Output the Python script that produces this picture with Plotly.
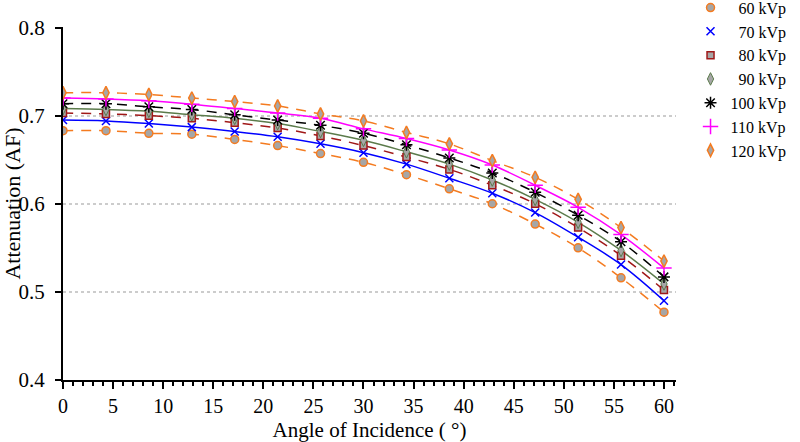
import plotly.graph_objects as go

angles = [0, 4.29, 8.57, 12.86, 17.14, 21.43, 25.71, 30, 34.29, 38.57, 42.86, 47.14, 51.43, 55.71, 60]

af_60 = [0.683, 0.683, 0.680, 0.679, 0.673, 0.666, 0.657, 0.647, 0.633, 0.617, 0.600, 0.577, 0.550, 0.516, 0.477]
af_70 = [0.695, 0.694, 0.691, 0.687, 0.682, 0.676, 0.668, 0.658, 0.645, 0.629, 0.612, 0.590, 0.562, 0.531, 0.490]
af_80 = [0.703, 0.702, 0.700, 0.697, 0.692, 0.686, 0.677, 0.666, 0.653, 0.639, 0.621, 0.600, 0.573, 0.541, 0.502]
af_90 = [0.708, 0.707, 0.705, 0.701, 0.697, 0.691, 0.682, 0.672, 0.659, 0.645, 0.627, 0.605, 0.579, 0.547, 0.509]
af_100 = [0.7135, 0.7135, 0.710, 0.707, 0.701, 0.695, 0.689, 0.680, 0.667, 0.652, 0.635, 0.613, 0.587, 0.557, 0.517]
af_110 = [0.720, 0.719, 0.717, 0.713, 0.708, 0.703, 0.697, 0.685, 0.674, 0.661, 0.644, 0.621, 0.596, 0.565, 0.527]
af_120 = [0.726, 0.726, 0.724, 0.720, 0.716, 0.711, 0.702, 0.694, 0.681, 0.668, 0.649, 0.630, 0.605, 0.573, 0.535]

series_names = ["60", "70", "80", "90", "100", "110", "120"]
series_values = [af_60, af_70, af_80, af_90, af_100, af_110, af_120]

ORANGE = "#f47b20"
GRAY = "#a6a6a6"
styles = [
    dict(symbol="circle", size=8, color=GRAY, lcolor=ORANGE, lw=1.5, line=ORANGE, dash="10px,8px"),
    dict(symbol="x-thin-open", size=8, color="#0000ff", lcolor="#0000ff", lw=1.5, line="#0000ff", dash="solid"),
    dict(symbol="square", size=7, color=GRAY, lcolor="#a01818", lw=1.5, line="#a01818", dash="10px,8px"),
    dict(symbol="diamond-tall", size=9, color=GRAY, lcolor="#5b7b4b", lw=1, line="#5b7b4b", dash="solid"),
    dict(symbol="asterisk-open", size=10, color="#000000", lcolor="#000000", lw=1.5, line="#000000", dash="10px,8px"),
    dict(symbol="cross-thin-open", size=11, color="#ff00ff", lcolor="#ff00ff", lw=1.5, line="#ff00ff", dash="solid"),
    dict(symbol="diamond-tall", size=9, color=GRAY, lcolor=ORANGE, lw=1.5, line=ORANGE, dash="10px,8px"),
]

fig = go.Figure()

for name, vals, st in zip(series_names, series_values, styles):
    fig.add_trace(go.Scatter(
        x=angles, y=vals, mode="lines", showlegend=False, hoverinfo="skip",
        line=dict(color=st["line"], width=1.5, dash=st["dash"], shape="spline", smoothing=1.0),
    ))

for name, vals, st in zip(series_names, series_values, styles):
    label = ("\u2007" if len(name) == 2 else "") + name + " kVp"
    fig.add_trace(go.Scatter(
        x=angles, y=vals, mode="markers", name=label,
        marker=dict(symbol=st["symbol"], size=st["size"], color=st["color"],
                    line=dict(color=st["lcolor"], width=st["lw"])),
    ))

FONT = "Liberation Serif, Times New Roman, serif"

fig.update_layout(
    width=800, height=442,
    margin=dict(l=63, r=124, t=27, b=62, autoexpand=False),
    paper_bgcolor="white", plot_bgcolor="white",
    font=dict(family=FONT, color="black", size=20),
    legend=dict(
        x=1.0237, y=1.103, xanchor="left", yanchor="top",
        font=dict(family=FONT, size=16, color="black"),
        itemwidth=30, bgcolor="rgba(0,0,0,0)", tracegroupgap=0,
    ),
    xaxis=dict(
        range=[0, 61.2], tickmode="linear", tick0=0, dtick=5, automargin=False,
        ticks="outside", ticklen=7, tickwidth=2, tickcolor="black", ticklabelstandoff=0,
        showline=True, linecolor="black", linewidth=2, showgrid=False, zeroline=False,
        minor=dict(ticks="outside", ticklen=4, tickwidth=1.5, tickcolor="black", dtick=1, tick0=0, showgrid=False),
        tickfont=dict(family=FONT, size=20),
        title=dict(text="Angle of Incidence ( °)", font=dict(family=FONT, size=21), standoff=12),
    ),
    yaxis=dict(
        range=[0.4, 0.8006], tickmode="linear", tick0=0.4, dtick=0.1, tickformat=".1f", automargin=False,
        ticks="outside", ticklen=6, tickwidth=2, tickcolor="black", ticklabelstandoff=6,
        showline=True, linecolor="black", linewidth=2,
        showgrid=True, gridcolor="#cccccc", gridwidth=1.5, griddash="dot", zeroline=False,
        tickfont=dict(family=FONT, size=21),
        title=dict(text="Attenuation (AF)", font=dict(family=FONT, size=22), standoff=15),
    ),
)

fig.write_html("out.html", config={"displayModeBar": False},
               post_script="document.body.style.margin='0';")
